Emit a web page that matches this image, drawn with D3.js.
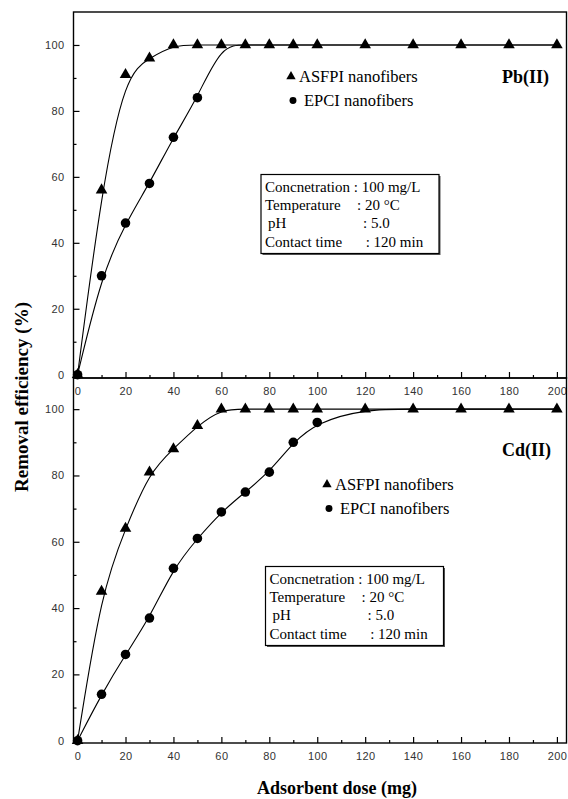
<!DOCTYPE html>
<html>
<head>
<meta charset="utf-8">
<script src="https://cdn.jsdelivr.net/npm/d3@7"></script>
<style>
  body { margin: 0; background: #fff; }
  svg { display: block; }
  .tick text { font-family: "Liberation Sans", Arial, sans-serif; font-size: 11px; fill: #333; letter-spacing: 0.4px; }
  .tick line { stroke: #000; stroke-width: 1.2; }
  .serif { font-family: "Liberation Serif", "Times New Roman", serif; fill: #000; }
</style>
</head>
<body>
<div id="chart"></div>
<script>
// adsorbent dose (mg)
const doses = [0, 10, 20, 30, 40, 50, 60, 70, 80, 90, 100, 120, 140, 160, 180, 200];

// removal efficiency (%), Pb(II)
const pbASFPI = [0, 56, 91, 96, 100, 100, 100, 100, 100, 100, 100, 100, 100, 100, 100, 100];
const pbEPCI  = [0, 30, 46, 58, 72, 84, 100, 100, 100, 100, 100, 100, 100, 100, 100, 100];

// removal efficiency (%), Cd(II)
const cdASFPI = [0, 45, 64, 81, 88, 95, 100, 100, 100, 100, 100, 100, 100, 100, 100, 100];
const cdEPCI  = [0, 14, 26, 37, 52, 61, 69, 75, 81, 90, 96, 100, 100, 100, 100, 100];

const xTicks = [0, 20, 40, 60, 80, 100, 120, 140, 160, 180, 200];
const xMinor = [10, 30, 50, 70, 90, 110, 130, 150, 170, 190];
const yTicks = [0, 20, 40, 60, 80, 100];
const yMinor = [10, 30, 50, 70, 90];

const seriesNames = ['ASFPI nanofibers', 'EPCI nanofibers'];
const condLabels = ['Concnetration', 'Temperature', 'pH', 'Contact time'];
const condValues = ['100 mg/L', '20 °C', '5.0', '120 min'];

const width = 568, height = 799;

const svg = d3.select('#chart').append('svg')
    .attr('width', width)
    .attr('height', height);

svg.append('rect').attr('width', width).attr('height', height).attr('fill', '#fff');

const x = d3.scaleLinear().domain([-1.7, 204]).range([73.5, 566.5]);

const line = d3.line()
    .x(d => x(d[0]))
    .curve(d3.curveBasis);

const tri = d3.symbol().type(d3.symbolTriangle);
const dot = d3.symbol().type(d3.symbolCircle);

function drawPanel(cfg) {
  const y = d3.scaleLinear().domain(cfg.yDomain).range(cfg.yRange);
  const g = svg.append('g');
  const lineY = line.y(d => y(d[1]));

  const asfpi = doses.map((d, i) => [d, cfg.asfpi[i]]);
  const epci = doses.map((d, i) => [d, cfg.epci[i]]);

  // curves
  [epci, asfpi].forEach(s => {
    g.append('path')
      .attr('d', lineY(s))
      .attr('fill', 'none')
      .attr('stroke', '#000')
      .attr('stroke-width', 1.1);
  });

  // circles (only where not covered by the triangles)
  g.selectAll('path.dot')
    .data(epci.filter((d, i) => d[1] !== cfg.asfpi[i] || i === 0))
    .enter().append('path')
    .attr('class', 'dot')
    .attr('d', dot.size(72))
    .attr('transform', d => `translate(${x(d[0])},${y(d[1])})`);

  g.selectAll('path.tri')
    .data(asfpi)
    .enter().append('path')
    .attr('class', 'tri')
    .attr('d', tri.size(58))
    .attr('transform', d => `translate(${x(d[0])},${y(d[1])})`);

  // axes, ticks inward
  const bottomY = cfg.yRange[0];
  g.append('g')
    .attr('transform', `translate(0,${bottomY})`)
    .call(d3.axisBottom(x).tickValues(xTicks).tickSize(-6).tickPadding(9))
    .call(a => a.select('.domain').remove());
  g.append('g')
    .attr('transform', `translate(0,${bottomY})`)
    .call(d3.axisBottom(x).tickValues(xMinor).tickSize(-3).tickFormat(''))
    .call(a => a.select('.domain').remove());
  g.append('g')
    .attr('transform', `translate(${x.range()[0]},0)`)
    .call(d3.axisLeft(y).tickValues(yTicks).tickSize(-6).tickPadding(9))
    .call(a => a.select('.domain').remove());
  g.append('g')
    .attr('transform', `translate(${x.range()[0]},0)`)
    .call(d3.axisLeft(y).tickValues(yMinor).tickSize(-3).tickFormat(''))
    .call(a => a.select('.domain').remove());

  // frame
  g.append('rect')
    .attr('x', x.range()[0])
    .attr('y', cfg.yRange[1])
    .attr('width', x.range()[1] - x.range()[0])
    .attr('height', cfg.yRange[0] - cfg.yRange[1])
    .attr('fill', 'none')
    .attr('stroke', '#000')
    .attr('stroke-width', 1.4);

  // metal label
  g.append('text')
    .attr('class', 'serif')
    .attr('x', 502).attr('y', cfg.metalY)
    .style('font-size', '18px').style('font-weight', 'bold')
    .text(cfg.metal);

  // legend
  const lg = g.append('g').attr('transform', `translate(${cfg.legend[0]},${cfg.legend[1]})`);
  lg.append('path').attr('d', tri.size(38)).attr('transform', 'translate(0,-5)');
  lg.append('path').attr('d', dot.size(38)).attr('transform', 'translate(2,19)');
  seriesNames.forEach((name, i) => {
    lg.append('text')
      .attr('class', 'serif')
      .attr('x', i === 0 ? 8 : 13)
      .attr('y', i * 24)
      .style('font-size', '16.5px')
      .text(name);
  });

  // conditions box
  const bx = cfg.box[0], by = cfg.box[1];
  g.append('rect')
    .attr('x', bx + 1.5).attr('y', by + 1.5)
    .attr('width', 178).attr('height', 79)
    .attr('fill', '#555');
  g.append('rect')
    .attr('x', bx).attr('y', by)
    .attr('width', 178).attr('height', 79)
    .attr('fill', '#fff')
    .attr('stroke', '#000')
    .attr('stroke-width', 1.2);
  const rowY = [17, 35, 53, 72];
  const colonX = [0, 96, 102, 104.7];
  condLabels.forEach((lab, i) => {
    const t = g.append('text')
      .attr('class', 'serif')
      .style('font-size', '15px')
      .attr('y', by + rowY[i]);
    if (i === 0) {
      t.attr('x', bx + 4).text(`${lab} : ${condValues[i]}`);
    } else {
      t.attr('x', bx + (i === 2 ? 7 : 4)).text(lab);
      g.append('text')
        .attr('class', 'serif')
        .style('font-size', '15px')
        .attr('x', bx + colonX[i])
        .attr('y', by + rowY[i])
        .text(`: ${condValues[i]}`);
    }
  });
}

drawPanel({
  yDomain: [-1, 110], yRange: [378, 12],
  asfpi: pbASFPI, epci: pbEPCI,
  metal: 'Pb(II)', metalY: 83,
  legend: [291, 81.5], box: [261, 174.5]
});

drawPanel({
  yDomain: [-0.7, 109.4], yRange: [743, 378],
  asfpi: cdASFPI, epci: cdEPCI,
  metal: 'Cd(II)', metalY: 456,
  legend: [327, 489.5], box: [265.5, 566.5]
});

// axis titles
svg.append('text')
  .attr('class', 'serif')
  .attr('x', 337).attr('y', 794)
  .attr('text-anchor', 'middle')
  .style('font-size', '18px').style('font-weight', 'bold')
  .text('Adsorbent dose (mg)');

svg.append('text')
  .attr('class', 'serif')
  .attr('transform', 'translate(28,397) rotate(-90)')
  .attr('text-anchor', 'middle')
  .style('font-size', '19px').style('font-weight', 'bold')
  .text('Removal efficiency (%)');
</script>
</body>
</html>
